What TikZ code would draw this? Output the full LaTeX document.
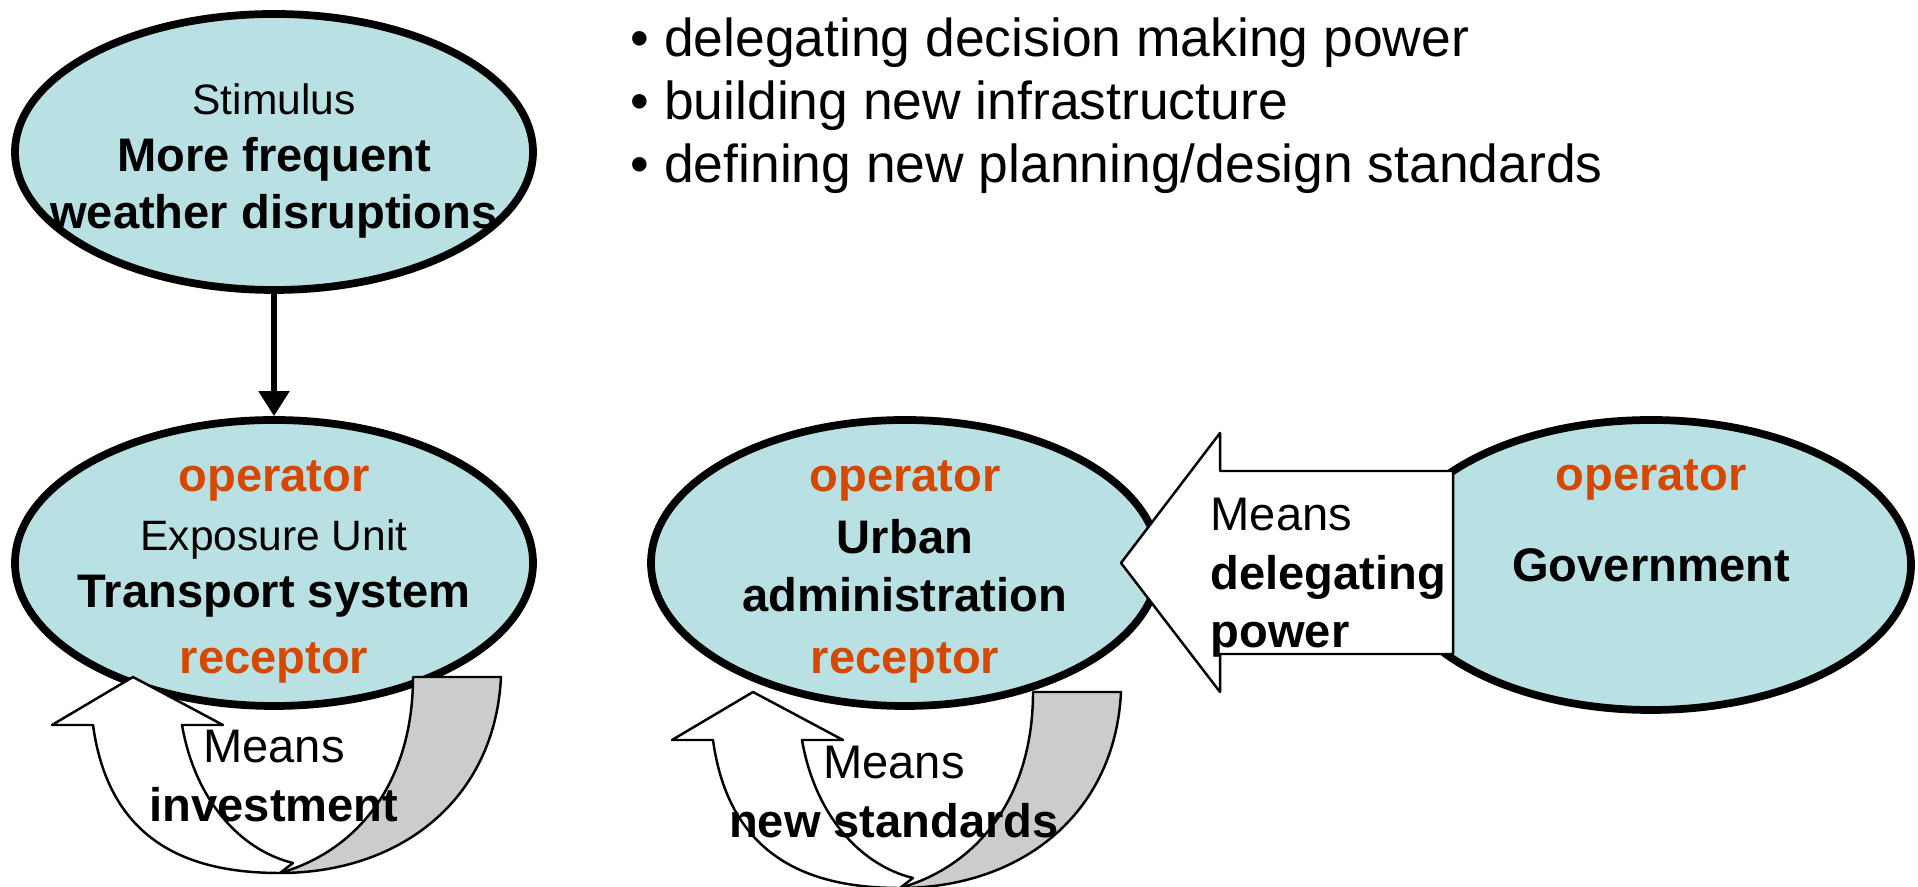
\documentclass[tikz,border=0pt]{standalone}
\usepackage{fontspec}
\setmainfont{Liberation Sans}
\usetikzlibrary{shapes.geometric,arrows.meta}

\definecolor{bubblefill}{RGB}{185,224,227}
\definecolor{roleorange}{RGB}{214,72,0}
\definecolor{backgray}{RGB}{204,204,204}

\newcommand{\role}[1]{{\color{roleorange}#1}}
\newcommand{\kindlabel}[1]{{\mdseries\fontsize{12.1}{16.3}\selectfont #1}}

\begin{document}
\begin{tikzpicture}[line join=round]
    \tikzset{
        bubble/.style = {ellipse, draw=black, line width=2.2pt, fill=bubblefill, inner sep=0pt},
        inbubble/.style = {align=center, inner sep=0pt, font=\bfseries\fontsize{13.4}{16.3}\selectfont},
        means/.style = {align=center, inner sep=0pt, font=\fontsize{13.4}{16.6}\selectfont},
        flow/.style = {-{Triangle[length=0.25cm,width=0.3cm]}, line width=1.5pt},
        frontside/.style = {draw=black, line width=0.7pt, fill=white},
        backside/.style = {draw=black, line width=0.7pt, fill=backgray},
        pics/meansloop/.style = {code={
            % front of the ribbon, head pointing up
            \draw[frontside] (-0.81,-0.48) -- (0,0) -- (0.90,-0.48) -- (0.49,-0.48)
                .. controls (0.62,-1.23) and (1.07,-1.73) .. (1.60,-1.86) -- (1.47,-1.96)
                .. controls (0.67,-1.96) and (-0.23,-1.73) .. (-0.40,-0.48) -- cycle;
            % back of the ribbon
            \draw[backside] (2.80,0) -- (3.68,0)
                .. controls (3.62,-1.23) and (2.67,-1.96) .. (1.47,-1.96)
                .. controls (2.27,-1.73) and (2.80,-1.03) .. (2.80,0) -- cycle;
        }},
    }
    \useasboundingbox (0,0) rectangle (19.18,8.87);
    %
    \node[bubble, minimum width=5.18cm, minimum height=2.76cm] at (2.74,7.35) (stim) {};
    \node[bubble, minimum width=5.18cm, minimum height=2.86cm] at (2.74,3.24) (expo) {};
    \node[bubble, minimum width=5.08cm, minimum height=2.86cm] at (9.05,3.24) (urban) {};
    \node[bubble, minimum width=5.20cm, minimum height=2.90cm] at (16.51,3.22) (gov) {};
    %
    \node[inbubble] at ([yshift=-0.09cm]stim.center) (stimtext)
        {\kindlabel{Stimulus}\\More frequent\\weather disruptions};
    \node[inbubble] at ([yshift=-0.09cm]expo.center) (expotext)
        {\role{operator}\\[0.6pt]\kindlabel{Exposure Unit}\\Transport system\\[2.4pt]\role{receptor}};
    \node[inbubble] at ([yshift=-0.09cm]urban.center) (urbantext)
        {\role{operator}\\[1.4pt]Urban\\administration\\[1.4pt]\role{receptor}};
    \node[inbubble] at ([yshift=0.44cm]gov.center) (govtext) {\role{operator}\\[0.34cm]Government};
    %
    \draw[flow] (stim) -- (expo);
    %
    \pic at (1.33,2.10) {meansloop};
    \pic at (7.53,1.95) {meansloop};
    \node[means] at (2.74,1.11) (invest) {Means\\\textbf{investment}};
    \node[means] at (8.94,0.95) (standards) {Means\\\textbf{new standards}};
    %
    \draw[frontside] (11.21,3.24) -- (12.20,4.54) -- (12.20,4.16) -- (14.53,4.16)
        -- (14.53,2.33) -- (12.20,2.33) -- (12.20,1.95) -- cycle;
    \node[means, align=left, anchor=west] at (12.10,3.09) (deleg)
        {Means\\\textbf{delegating}\\\textbf{power}};
    %
    \node[align=left, anchor=west, inner sep=0pt, font=\fontsize{15.2}{17.9}\selectfont] at (6.30,7.81) (ways)
        {• delegating decision making power\\• building new infrastructure\\• defining new planning/design standards};
\end{tikzpicture}
\end{document}
